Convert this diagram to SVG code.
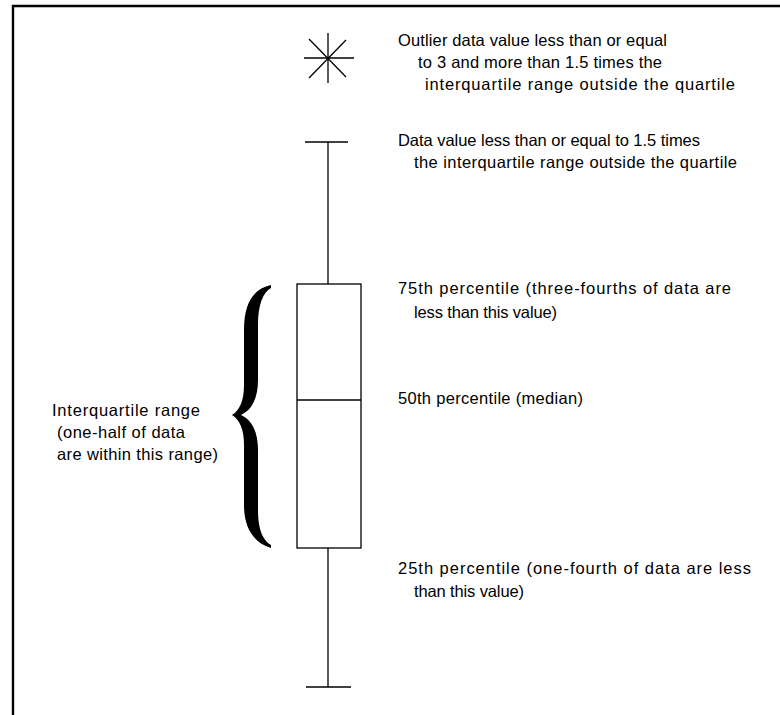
<svg xmlns="http://www.w3.org/2000/svg" width="780" height="715" viewBox="0 0 780 715">
<style>
.ln{stroke:#000;stroke-width:1.3;fill:none}
.t{font-family:"Liberation Sans",Arial,sans-serif;font-size:16.5px;fill:#000}
</style>
<rect x="0" y="0" width="780" height="715" fill="#fff"/>
<g id="frame">
<path d="M13 715 V6 H780" stroke="#000" stroke-width="2.4" fill="none"/>
</g>
<g id="connectors">
<line class="ln" x1="328" y1="142" x2="328" y2="284"/>
<line class="ln" x1="328" y1="548" x2="328" y2="687"/>
</g>
<g id="outlier">
<line class="ln" x1="304" y1="58" x2="354" y2="58"/>
<line class="ln" x1="328" y1="33" x2="328" y2="83"/>
<line class="ln" x1="309" y1="39" x2="346" y2="77"/>
<line class="ln" x1="346" y1="40" x2="309" y2="78"/>
</g>
<g id="top-cap">
<line class="ln" x1="305" y1="142" x2="348" y2="142"/>
</g>
<g id="box">
<rect class="ln" x="297" y="284" width="64" height="264"/>
<line class="ln" x1="297" y1="400" x2="361" y2="400"/>
</g>
<g id="bottom-cap">
<line class="ln" x1="306" y1="687" x2="351" y2="687"/>
</g>
<g id="brace">
<path d="M271 285 C252 289 244 305 244 330 L244 385 C244 400 240 410 232 415 C240 420 244 430 244 445 L244 505 C244 526 252 542 271 548 L271 545 C263 540 258 530 258 510 L258 450 C258 432 252 420 241 415 C252 410 258 398 258 380 L258 325 C258 305 263 292 271 288 Z" fill="#000"/>
</g>
<g id="labels">
<text class="t" x="398" y="46" textLength="269" lengthAdjust="spacing">Outlier data value less than or equal</text>
<text class="t" x="418" y="68" textLength="244" lengthAdjust="spacing">to 3 and more than 1.5 times the</text>
<text class="t" x="425" y="90" textLength="310" lengthAdjust="spacing">interquartile range outside the quartile</text>
<text class="t" x="398" y="146" textLength="302" lengthAdjust="spacing">Data value less than or equal to 1.5 times</text>
<text class="t" x="414" y="168" textLength="323" lengthAdjust="spacing">the interquartile range outside the quartile</text>
<text class="t" x="398" y="294" textLength="333" lengthAdjust="spacing">75th percentile (three-fourths of data are</text>
<text class="t" x="414" y="318" textLength="143" lengthAdjust="spacing">less than this value)</text>
<text class="t" x="398" y="404" textLength="185" lengthAdjust="spacing">50th percentile (median)</text>
<text class="t" x="398" y="574" textLength="353" lengthAdjust="spacing">25th percentile (one-fourth of data are less</text>
<text class="t" x="414" y="597" textLength="110" lengthAdjust="spacing">than this value)</text>
<text class="t" x="52" y="416" textLength="148" lengthAdjust="spacing">Interquartile range</text>
<text class="t" x="57" y="438" textLength="128" lengthAdjust="spacing">(one-half of data</text>
<text class="t" x="57" y="460" textLength="161" lengthAdjust="spacing">are within this range)</text>
</g>
</svg>
